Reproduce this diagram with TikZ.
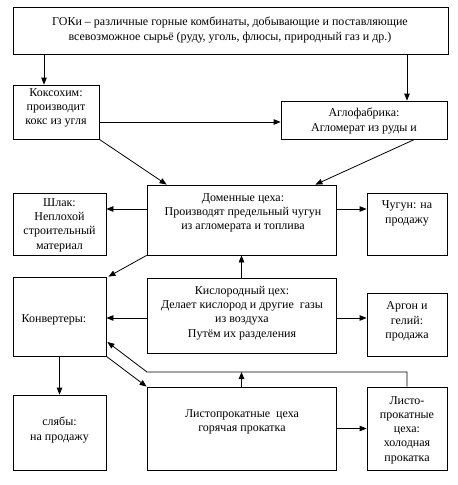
\documentclass[tikz,border=0pt]{standalone}
\usepackage{fontspec}
\setmainfont{Liberation Serif}
\usetikzlibrary{arrows.meta,calc}
\begin{document}
\begin{tikzpicture}[x=1pt,y=-1pt,
  box/.style={draw,line width=0.8pt,rectangle,inner sep=0pt},
  txt/.style={align=center,inner sep=0pt,font=\fontsize{12}{14.3}\selectfont},
  arr/.style={line width=0.8pt,-{Triangle[length=7pt,width=5.5pt]}},
  ln/.style={line width=0.8pt}]
\useasboundingbox[fill=white] (0,0) rectangle (458,485);
% boxes
\node[box,minimum width=435pt,minimum height=47pt] (gok) at (230.5,30.5) {};
\node[box,minimum width=86pt,minimum height=54pt] (kokso) at (56,112) {};
\node[box,minimum width=166pt,minimum height=38pt] (aglo) at (364,120) {};
\node[box,minimum width=189pt,minimum height=70pt] (domen) at (241.5,220) {};
\node[box,minimum width=93pt,minimum height=62pt] (shlak) at (59.5,224) {};
\node[box,minimum width=80pt,minimum height=62pt] (chugun) at (407,224) {};
\node[box,minimum width=93pt,minimum height=79pt] (conv) at (59.5,316.5) {};
\node[box,minimum width=189pt,minimum height=75pt] (kisl) at (241.5,315.5) {};
\node[box,minimum width=80pt,minimum height=63pt] (argon) at (407,324.5) {};
\node[box,minimum width=93pt,minimum height=75pt] (slyab) at (59.5,432.5) {};
\node[box,minimum width=189pt,minimum height=83pt] (hot) at (241.5,428.5) {};
\node[box,minimum width=80pt,minimum height=83pt] (cold) at (407,428.5) {};
% texts
\node[txt] (tgok) at (230,30) {ГОКи – различные горные комбинаты, добывающие и поставляющие\\всевозможное сырьё (руду, уголь, флюсы, природный газ и др.)};
\node[txt] (tkokso) at (56,108) {Коксохим:\\производит\\кокс из угля};
\node[txt] (taglo) at (364,121) {Аглофабрика:\\Агломерат из руды и};
\node[txt] (tdomen) at (243,213) {Доменные цеха:\\Производят предельный чугун\\из агломерата и топлива};
\node[txt] (tshlak) at (59.5,225) {Шлак:\\Неплохой\\строительный\\материал};
\node[txt] (tchugun) at (407,213.5) {Чугун: на\\продажу};
\node[txt] (tconv) at (54,320) {Конвертеры:};
\node[txt] (tkisl) at (242,313) {Кислородный цех:\\Делает кислород и другие\ \ газы\\из воздуха\\Путём их разделения};
\node[txt] (targon) at (407,321.5) {Аргон и\\гелий:\\продажа};
\node[txt] (tslyab) at (59.5,430) {слябы:\\на продажу};
\node[txt] (thot) at (242,421.5) {Листопрокатные\ \ цеха\\горячая прокатка};
\node[txt] (tcold) at (407,430) {Листо-\\прокатные\\цеха:\\холодная\\прокатка};
% helper coordinates
\coordinate (kx) at (44,0);
\coordinate (ax) at (407,0);
\coordinate (ky) at (0,122);
\coordinate (dy) at (0,209);
\coordinate (ky2) at (0,318);
\coordinate (retc) at (147,372);
% connectors
\draw[arr] (gok.south -| kx) -- (kokso.north -| kx);
\draw[arr] (gok.south -| ax) -- (aglo.north -| ax);
\draw[arr] (kokso.east |- ky) -- (aglo.west |- ky);
\draw[arr] (kokso.south east) -- ($(domen.north west)+(20,0)$);
\draw[arr] ($(aglo.south west)+(134,0)$) -- ($(domen.north east)+(-21,0)$);
\draw[arr] (domen.west |- dy) -- (shlak.east |- dy);
\draw[arr] (domen.east |- dy) -- (chugun.west |- dy);
\draw[arr] (domen.south west) -- ($(conv.north east)+(2,0)$);
\draw[arr] (kisl.north) -- (domen.south);
\draw[arr] (kisl.west |- ky2) -- (conv.east |- ky2);
\draw[arr] (kisl.east |- ky2) -- (argon.west |- ky2);
\draw[arr] (conv.south) -- (slyab.north);
\draw[arr] (conv.south east) -- (hot.north west);
\draw[arr] (hot.east) -- (cold.west);
\draw[arr] (cold.north) |- (retc) -- ($(conv.east)+(1,25.5)$);
\draw[arr] (hot.north) -- (hot.north |- retc);
\end{tikzpicture}
\end{document}
